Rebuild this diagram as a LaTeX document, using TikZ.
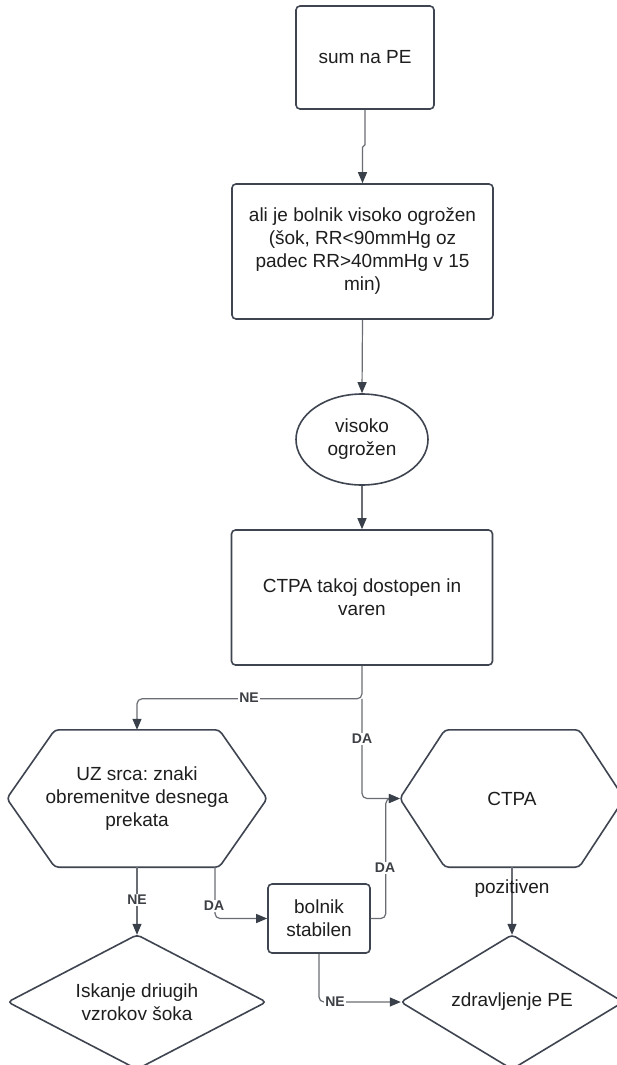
\documentclass[tikz,border=0pt]{standalone}
\usepackage{fontspec}
\setmainfont{Liberation Sans}
\usetikzlibrary{arrows.meta,shapes.geometric,calc}
\definecolor{boxline}{HTML}{3F4550}
\definecolor{conline}{HTML}{6A6E74}
\definecolor{tipcol}{HTML}{3A4049}
\definecolor{txt}{HTML}{1E1E1E}
\definecolor{lblcol}{HTML}{3C3F44}
\newcommand{\mainfs}{\fontsize{19}{23}\selectfont}
\newcommand{\lblfs}{\fontsize{14}{16}\selectfont\bfseries}
\frenchspacing
\begin{document}
\frenchspacing
\begin{tikzpicture}[x=1pt,y=-1pt,
  boxn/.style={draw=boxline, line width=1.6pt, rounded corners=4pt, align=center, text=txt, font=\mainfs, inner sep=0pt},
  ell/.style={ellipse, draw=boxline, line width=1.6pt, align=center, text=txt, font=\mainfs, inner sep=0pt},
  ghost/.style={rectangle, align=center, text=txt, font=\mainfs, inner sep=0pt},
  hexline/.style={draw=boxline, line width=1.6pt, rounded corners=4pt},
  con/.style={draw=conline, line width=1.2pt, rounded corners=5pt, -{Triangle[length=11pt,width=9pt,color=tipcol]}},
  lbl/.style={fill=white, inner sep=1pt, font=\lblfs, text=lblcol},
  plbl/.style={inner sep=1pt, font=\mainfs, text=txt}]
\useasboundingbox (0,0) rectangle (617,1065);
\fill[white] (0,0) rectangle (617,1065);

\node[boxn, minimum width=138pt, minimum height=103pt] (n1) at (365,57.5) {sum na PE};
\node[boxn, minimum width=261pt, minimum height=135pt] (n2) at (362.5,251.5)
  {ali je bolnik visoko ogrožen\\(šok, RR<90mmHg oz\\padec RR>40mmHg v 15\\min)};
\node[ell, minimum width=132pt, minimum height=91pt] (n3) at (362,439.5) {visoko\\ogrožen};
\node[boxn, minimum width=261pt, minimum height=135pt] (n4) at (362,597.5) {CTPA takoj dostopen in\\varen};

\node[ghost, minimum width=260pt, minimum height=137pt] (uz) at (137,798.5)
  {UZ srca: znaki\\obremenitve desnega\\prekata};
\draw[hexline] (uz.west) -- ($(uz.north west)+(48,0)$) -- ($(uz.north east)+(-48,0)$) -- (uz.east)
  -- ($(uz.south east)+(-48,0)$) -- ($(uz.south west)+(48,0)$) -- cycle;

\node[ghost, minimum width=224pt, minimum height=137pt] (ctpa) at (512,798.5) {CTPA};
\draw[hexline] (ctpa.west) -- ($(ctpa.north west)+(45,0)$) -- ($(ctpa.north east)+(-45,0)$) -- (ctpa.east)
  -- ($(ctpa.south east)+(-45,0)$) -- ($(ctpa.south west)+(45,0)$) -- cycle;

\node[boxn, minimum width=102pt, minimum height=69pt] (bol) at (319,918.5) {bolnik\\stabilen};

\node[ghost, minimum width=258pt, minimum height=134pt] (isk) at (137,1002) {Iskanje driugih\\vzrokov šoka};
\draw[hexline] (isk.west) -- (isk.north) -- (isk.east) -- (isk.south) -- cycle;

\node[ghost, minimum width=222pt, minimum height=134pt] (zdr) at (512,1002) {zdravljenje PE};
\draw[hexline] (zdr.west) -- (zdr.north) -- (zdr.east) -- (zdr.south) -- cycle;

\coordinate (j1) at ($(n4.south)+(0,33)$);
\coordinate (uzda) at ($(uz.south)+(78,0)$);
\coordinate (j2) at ($(bol.east)+(15,0)$);

\draw[con, sharp corners] (n1.south) -- ++(0,35) -- ($(n2.north)+(0,-36)$) -- (n2.north);
\draw[con] (n2.south) -- (n3.north);
\draw[con] (n3.south) -- (n4.north);
\draw[con] (n4.south) -- (j1) -| (uz.north);
\draw[con] (j1) |- (ctpa.west);
\draw[con] (uz.south) -- (isk.north);
\draw[con] (uzda) |- (bol.west);
\draw[con] (bol.east) -- (j2) |- (ctpa.west);
\draw[con] (bol.south) |- (zdr.west);
\draw[con] (ctpa.south) -- (zdr.north);

\node[lbl] (lne1) at (249,698) {NE};
\node[lbl] (lda1) at (362,739) {DA};
\node[lbl] (lne2) at (137,900) {NE};
\node[lbl] (lda2) at (214,906) {DA};
\node[lbl] (lda3) at (385,868) {DA};
\node[lbl] (lne3) at (335,1002) {NE};
\node[plbl] (lpoz) at (512,889) {pozitiven};
\end{tikzpicture}
\end{document}
